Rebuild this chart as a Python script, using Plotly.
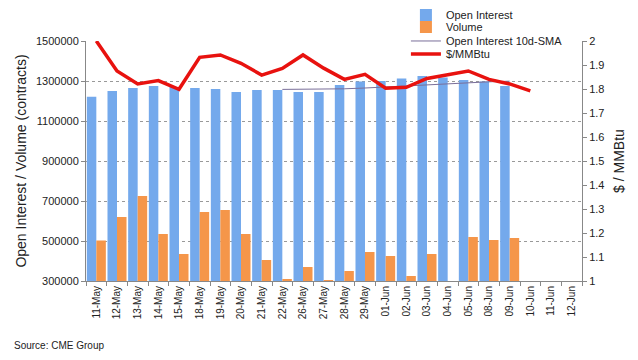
import plotly.graph_objects as go

categories = ["11-May", "12-May", "13-May", "14-May", "15-May", "18-May", "19-May", "20-May",
              "21-May", "22-May", "26-May", "27-May", "28-May", "29-May", "01-Jun", "02-Jun",
              "03-Jun", "04-Jun", "05-Jun", "08-Jun", "09-Jun", "10-Jun", "11-Jun", "12-Jun"]

open_interest = [1221000, 1250000, 1265000, 1275000, 1270000, 1265000, 1260000, 1245000,
                 1255000, 1255000, 1245000, 1245000, 1280000, 1297000, 1300000, 1313000,
                 1325000, 1318000, 1305000, 1297000, 1275000, None, None, None]

volume = [502000, 620000, 725000, 535000, 435000, 645000, 655000, 535000,
          405000, 310000, 370000, 305000, 350000, 445000, 425000, 325000,
          435000, None, 520000, 505000, 515000, None, None, None]

oi_sma = [None, None, None, None, None, None, None, None,
          None, 1258000, 1259000, 1258000, 1261000, 1265000, 1270000, 1275000,
          1282000, 1288000, 1292000, 1296000, 1299000, None, None, None]

price = [2.0, 1.875, 1.821, 1.835, 1.799, 1.932, 1.942, 1.907,
         1.858, 1.886, 1.942, 1.887, 1.84, 1.861, 1.803, 1.807,
         1.844, 1.858, 1.875, 1.84, 1.821, 1.792, None, None]

left_ticks = [300000, 500000, 700000, 900000, 1100000, 1300000, 1500000]
right_ticks = [1, 1.1, 1.2, 1.3, 1.4, 1.5, 1.6, 1.7, 1.8, 1.9, 2]
right_labels = ["1", "1.1", "1.2", "1.3", "1.4", "1.5", "1.6", "1.7", "1.8", "1.9", "2"]

FONT = "Liberation Sans, Arial, sans-serif"

fig = go.Figure()
fig.add_trace(go.Bar(x=categories, y=open_interest, name="Open Interest", legend="legend",
                     marker=dict(color="#74a9ec", line=dict(width=0))))
fig.add_trace(go.Scatter(x=categories, y=oi_sma, name="Open Interest 10d-SMA", mode="lines",
                         legend="legend2", line=dict(color="#7a6f9a", width=1)))
fig.add_trace(go.Bar(x=categories, y=volume, name="Volume", legend="legend3",
                     marker=dict(color="#f5964a", line=dict(width=0))))
fig.add_trace(go.Scatter(x=categories, y=price, name="$/MMBtu", mode="lines", yaxis="y2",
                         legend="legend4", line=dict(color="#e8120f", width=3.5)))


def leg(y, bg="rgba(255,255,255,0)"):
    return dict(x=0.645, y=y, xref="paper", yref="container", xanchor="left", yanchor="middle",
                bgcolor=bg, font=dict(size=11, family=FONT, color="#222"),
                tracegroupgap=0, itemwidth=30)


fig.update_layout(
    width=630, height=352,
    margin=dict(l=78, r=56, t=33, b=79, autoexpand=False),
    paper_bgcolor="white", plot_bgcolor="white",
    font=dict(family=FONT, size=11, color="#222"),
    barmode="group", bargap=0.08, bargroupgap=0,
    showlegend=True,
    legend=leg(0.9801),
    legend3=leg(0.946),
    legend2=leg(0.9063, "white"),
    legend4=leg(0.8693),
    xaxis=dict(type="category", tickangle=-90, tickfont=dict(size=10),
               showline=True, linecolor="#888", linewidth=1,
               ticks="outside", ticklen=4, tickcolor="#888", tickson="boundaries",
               showgrid=False, range=[-0.5, 23.5], automargin=False),
    yaxis=dict(range=[300000, 1500000], tickvals=left_ticks,
               ticktext=[str(v) for v in left_ticks],
               showline=True, linecolor="#888", linewidth=1,
               ticks="outside", ticklen=4, tickcolor="#888",
               showgrid=True, gridcolor="#999", griddash="dot", gridwidth=1,
               zeroline=False, tickfont=dict(size=11), automargin=False,
               title=dict(text="Open Interest / Volume (contracts)", font=dict(size=14), standoff=6)),
    yaxis2=dict(range=[1, 2], tickvals=right_ticks, ticktext=right_labels,
                overlaying="y", side="right",
                showline=True, linecolor="#888", linewidth=1,
                ticks="outside", ticklen=4, tickcolor="#888",
                showgrid=False, zeroline=False, tickfont=dict(size=11), automargin=False,
                title=dict(text="$ / MMBtu", font=dict(size=14), standoff=10)),
    annotations=[dict(text="Source: CME Group", xref="paper", yref="paper",
                      x=-0.149, y=-0.27, xanchor="left", yanchor="middle", showarrow=False,
                      font=dict(size=10, family=FONT, color="#222"))],
)

fig.write_html("out.html")
